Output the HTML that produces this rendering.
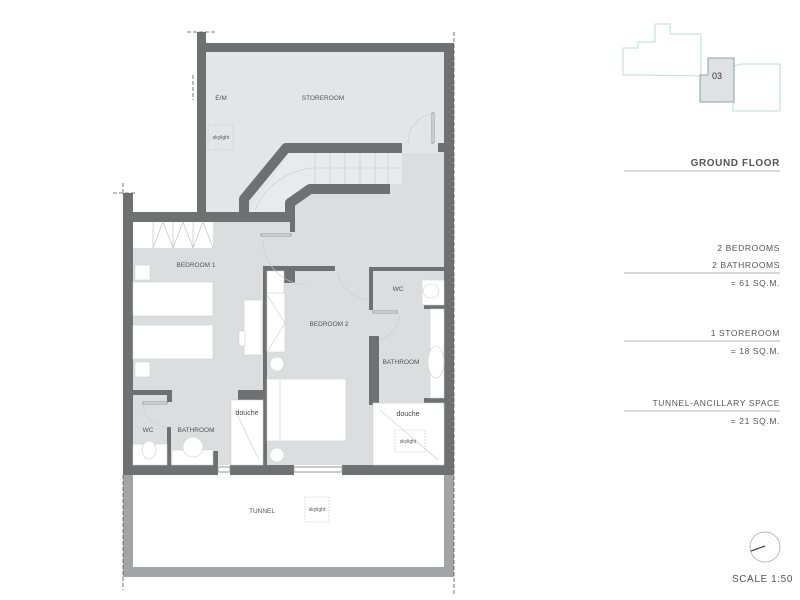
<!DOCTYPE html>
<html><head><meta charset="utf-8"><style>
body{margin:0;background:#fff;}
svg{display:block;font-family:"Liberation Sans",sans-serif;}
</style></head><body>
<svg width="800" height="600" viewBox="0 0 800 600" xmlns="http://www.w3.org/2000/svg">
<!-- fills -->
<rect x="206" y="52" width="238" height="162" fill="#e4e5e6"/>
<rect x="133" y="222" width="311" height="243" fill="#dcdddf"/>
<polygon points="290,153 444,153 444,222 290,222 290,200 310,189 390,189 402,153" fill="#dcdddf"/>
<rect x="133" y="475" width="311" height="92" fill="#fff"/>
<!-- stair fill -->
<polygon points="248,213 290,153 402,153 402,184 310,184 290,203 290,213" fill="#e9eaeb"/>
<g stroke="#c4c6c8" stroke-width="0.6" fill="none">
<line x1="330" y1="153" x2="330" y2="184"/><line x1="345" y1="153" x2="345" y2="184"/><line x1="360" y1="153" x2="360" y2="184"/><line x1="375" y1="153" x2="375" y2="184"/><line x1="388" y1="153" x2="388" y2="184"/><line x1="315" y1="153" x2="315" y2="184"/>
<path d="M255,210 Q270,175 310,168 L402,168"/>
</g>
<!-- tunnel walls (light) -->
<rect x="123" y="465" width="10" height="112" fill="#a3a4a6"/>
<rect x="444" y="465" width="10" height="112" fill="#a3a4a6"/>
<rect x="123" y="567" width="331" height="10" fill="#a3a4a6"/>
<g fill="#6f7072">
<rect x="197" y="32" width="9" height="190"/>
<rect x="197" y="43" width="257" height="9"/>
<rect x="444" y="43" width="10" height="100"/>
<rect x="438" y="143" width="16" height="9"/>
<rect x="444" y="143" width="10" height="332"/>
<rect x="123" y="193" width="10" height="282"/>
<rect x="123" y="212" width="172" height="10"/>
<rect x="290" y="212" width="5" height="20"/>
<rect x="123" y="465" width="95" height="10"/>
<rect x="230" y="465" width="64" height="10"/>
<rect x="342" y="465" width="112" height="10"/>
<rect x="263" y="266" width="4" height="199"/>
<rect x="263" y="266" width="72" height="5"/>
<rect x="284" y="266" width="11" height="17"/>
<rect x="369" y="267" width="75" height="4"/>
<rect x="369" y="267" width="4" height="43"/>
<rect x="369" y="336" width="10" height="69"/>
<rect x="424" y="305" width="20" height="4"/>
<rect x="424" y="398" width="20" height="5"/>
<rect x="133" y="390" width="39" height="5"/>
<rect x="167" y="390" width="5" height="12"/>
<rect x="167" y="427" width="4" height="38"/>
<rect x="238" y="390" width="27" height="10"/>
<rect x="213" y="451" width="5" height="14"/>
</g>
<g stroke="#6f7072" stroke-width="10" fill="none" stroke-linejoin="round">
<polyline points="244,213 244,199 286,148 402,148"/>
<polyline points="290,215 290,203 310,189 390,189"/>
</g>
<rect x="133" y="222" width="80" height="26" fill="#fff"/>
<g stroke="#bbb" stroke-width="0.6" fill="none">
<path d="M153,222 V248 M173,222 V248 M193,222 V248 M153,248 L163,222 L173,248 L183,222 L193,248 L203,222 L213,248"/>
</g>
<g fill="#fff" stroke="#d0d0d0" stroke-width="0.6">
<rect x="133" y="282" width="80" height="34"/>
<rect x="133" y="325" width="80" height="34"/>
<rect x="135" y="265" width="15" height="15"/>
<rect x="135" y="362" width="15" height="15"/>
<rect x="244" y="300" width="18" height="55"/>
<rect x="239" y="331" width="6" height="15"/>
<rect x="267" y="293" width="18" height="59"/>
<rect x="267" y="379" width="79" height="62"/>
<rect x="267" y="271" width="17" height="22"/>
<circle cx="277" cy="364" r="7"/>
<circle cx="277" cy="455" r="7"/>
<rect x="231" y="400" width="32" height="65"/>
<rect x="373" y="403" width="71" height="62"/>
<rect x="430" y="309" width="14" height="89"/>
<ellipse cx="436" cy="362" rx="8" ry="16"/>
<rect x="133" y="444" width="34" height="21"/>
<rect x="172" y="450" width="41" height="15"/>
<circle cx="193" cy="447" r="10"/>
<ellipse cx="149" cy="450" rx="7" ry="9"/>
<rect x="422" y="280" width="22" height="25"/>
<ellipse cx="431" cy="291" rx="8" ry="7"/>
</g>
<g stroke="#ccc" stroke-width="0.6" fill="none">
<line x1="280" y1="380" x2="280" y2="440"/>
<line x1="235" y1="410" x2="259" y2="460"/>
<line x1="380" y1="410" x2="438" y2="460"/>
<path d="M267,295 L285,323 L267,352"/>
<path d="M263,240 A45,45 0 0 0 307,285"/>
<path d="M337,271 A38,38 0 0 0 365,300"/>
<path d="M379,340 A30,30 0 0 0 400,313"/>
<path d="M143,402 A25,25 0 0 0 168,427"/>
<path d="M408,143 A30,30 0 0 1 434,113"/>
</g>
<g stroke="#999" stroke-width="1" fill="#fff">
<rect x="261" y="234" width="30" height="2"/>
<rect x="373" y="311" width="24" height="2"/>
<rect x="143" y="402" width="24" height="2"/>
<rect x="432" y="113" width="2" height="30"/>
<rect x="218" y="467" width="12" height="5"/>
<rect x="294" y="467" width="48" height="5"/>
</g>
<g fill="none" stroke="#c8c8c8" stroke-width="0.6" stroke-dasharray="2,1">
<rect x="208" y="125" width="25" height="25"/>
<rect x="305" y="497" width="24" height="25"/>
<rect x="395" y="430" width="30" height="22"/>
</g>
<g stroke="#555" stroke-width="0.8" stroke-dasharray="4,2" fill="none">
<line x1="187" y1="32" x2="215" y2="32"/>
<line x1="113" y1="193" x2="135" y2="193"/>
<line x1="123" y1="183" x2="123" y2="193"/>
<line x1="193" y1="75" x2="193" y2="100"/>
<line x1="454" y1="32" x2="454" y2="595"/>
<line x1="123" y1="475" x2="123" y2="590"/>
</g>
<g font-size="6.5" fill="#555" text-anchor="middle">
<text x="221" y="100">E/M</text>
<text x="323" y="100">STOREROOM</text>
<text x="196" y="267">BEDROOM 1</text>
<text x="329" y="326">BEDROOM 2</text>
<text x="398" y="291">WC</text>
<text x="401" y="364">BATHROOM</text>
<text x="148" y="432">WC</text>
<text x="196" y="432">BATHROOM</text>
<text x="262" y="513">TUNNEL</text>
</g>
<g font-size="7" fill="#444" text-anchor="middle">
<text x="247" y="415">douche</text>
<text x="408" y="416">douche</text>
</g>
<g font-size="5" fill="#555" text-anchor="middle">
<text x="221" y="139">skylight</text>
<text x="317" y="511">skylight</text>
<text x="408" y="443">skylight</text>
</g>
<g fill="none" stroke="#a9d3ce" stroke-width="0.8">
<polygon points="623,48 638,48 638,42 655,42 655,24 670,24 670,34 701,34 701,76 640,75 623,75"/>
<polygon points="734,66 741,64 780,64 780,111 733,111"/>
</g>
<polygon points="708,58 734,58 734,102 700,102 700,75 708,75" fill="#e0e1e2" stroke="#6b8f8c" stroke-width="0.8"/>
<text x="717" y="79" font-size="9" fill="#333" text-anchor="middle">03</text>
<g fill="#555" text-anchor="end" font-size="8.5" letter-spacing="0.6">
<text x="780" y="166" font-weight="bold" font-size="10" fill="#555">GROUND FLOOR</text>
<text x="780" y="251">2 BEDROOMS</text>
<text x="780" y="268">2 BATHROOMS</text>
<text x="780" y="286">= 61 SQ.M.</text>
<text x="780" y="336">1 STOREROOM</text>
<text x="780" y="354">= 18 SQ.M.</text>
<text x="780" y="406">TUNNEL-ANCILLARY SPACE</text>
<text x="780" y="424">= 21 SQ.M.</text>
<text x="793" y="582" font-size="10">SCALE 1:50</text>
</g>
<g stroke="#999" stroke-width="0.8">
<line x1="624" y1="171" x2="780" y2="171"/>
<line x1="624" y1="273" x2="780" y2="273"/>
<line x1="624" y1="341" x2="780" y2="341"/>
<line x1="624" y1="411" x2="780" y2="411"/>
</g>
<circle cx="765" cy="547" r="15" fill="none" stroke="#aaa" stroke-width="0.8"/>
<line x1="751" y1="551" x2="765" y2="546" stroke="#444" stroke-width="1.2"/>
</svg>
</body></html>
